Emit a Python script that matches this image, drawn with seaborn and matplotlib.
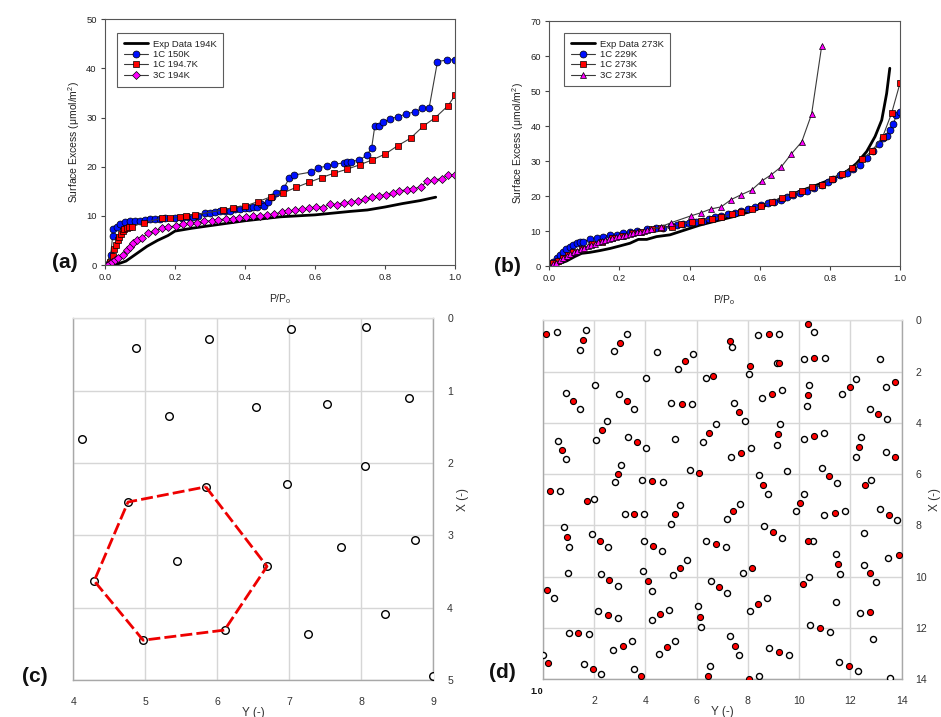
import matplotlib
matplotlib.use("Agg")
import matplotlib.pyplot as plt
import seaborn as sns

sns.set_theme(style="white")
plt.rcParams["font.family"] = ["Liberation Sans", "DejaVu Sans"]
plt.rcParams["mathtext.fontset"] = "custom"
plt.rcParams["mathtext.rm"] = "Liberation Sans"
plt.rcParams["mathtext.it"] = "Liberation Sans:italic"

# ---------------- Panel (a) data: 194 K isotherms ----------------
a_exp_x = [0, 0.02, 0.04, 0.06, 0.08, 0.1, 0.12, 0.15, 0.18, 0.2, 0.25, 0.3, 0.4, 0.5,
           0.6, 0.7, 0.75, 0.8, 0.85, 0.9, 0.945]
a_exp_y = [0, 0.1, 0.3, 0.8, 1.8, 2.8, 3.8, 5.0, 6.0, 6.9, 7.5, 8.0, 9.0, 9.8,
           10.2, 10.9, 11.2, 11.8, 12.5, 13.1, 13.8]

a_1c150_x = [0, 0.016, 0.022, 0.024, 0.033, 0.043, 0.057, 0.071, 0.086, 0.1, 0.114, 0.129,
             0.143, 0.157, 0.171, 0.2, 0.219, 0.238, 0.252, 0.267, 0.286, 0.3, 0.314, 0.329,
             0.343, 0.357, 0.371, 0.386, 0.4, 0.411, 0.424, 0.435, 0.446, 0.454, 0.467, 0.478,
             0.49, 0.511, 0.527, 0.54, 0.588, 0.61, 0.633, 0.655, 0.684, 0.692, 0.703, 0.727,
             0.748, 0.762, 0.771, 0.784, 0.793, 0.814, 0.838, 0.859, 0.886, 0.907, 0.926,
             0.95, 0.976, 1.0]
a_1c150_y = [0, 2.0, 6.0, 7.3, 7.8, 8.3, 8.7, 9.0, 9.0, 9.0, 9.2, 9.3,
             9.3, 9.4, 9.5, 9.6, 9.6, 9.8, 9.8, 9.9, 10.6, 10.6, 10.8, 11.0,
             11.0, 11.0, 11.3, 11.4, 11.5, 11.5, 11.8, 11.9, 12.4, 12.1, 12.8, 13.9,
             14.7, 15.6, 17.8, 18.3, 18.9, 19.8, 20.1, 20.5, 20.8, 21.0, 21.0, 21.4,
             22.3, 23.9, 28.3, 28.3, 29.0, 29.7, 30.2, 30.7, 31.2, 31.9, 31.9,
             41.4, 41.7, 41.8]

a_1c1947_x = [0, 0.014, 0.022, 0.027, 0.031, 0.036, 0.041, 0.046, 0.05, 0.055, 0.062, 0.069,
              0.076, 0.111, 0.162, 0.186, 0.214, 0.231, 0.257, 0.338, 0.367, 0.401, 0.437,
              0.475, 0.51, 0.546, 0.582, 0.619, 0.655, 0.692, 0.728, 0.764, 0.801, 0.837,
              0.873, 0.91, 0.944, 0.98, 1.0]
a_1c1947_y = [0, 0.7, 1.9, 3.2, 4.1, 5.0, 5.8, 6.4, 6.9, 7.3, 7.5, 7.7,
              7.8, 8.6, 9.5, 9.5, 9.7, 10.0, 10.2, 11.2, 11.7, 12.0, 12.9,
              13.9, 14.7, 15.8, 16.8, 17.8, 18.7, 19.5, 20.4, 21.4, 22.6, 24.3,
              25.8, 28.3, 30.0, 32.4, 34.5]

a_3c194_x = [0, 0.01, 0.019, 0.029, 0.038, 0.05, 0.062, 0.071, 0.081, 0.092, 0.105, 0.124,
             0.143, 0.162, 0.181, 0.202, 0.222, 0.243, 0.262, 0.284, 0.305, 0.324, 0.345,
             0.365, 0.384, 0.403, 0.424, 0.443, 0.464, 0.484, 0.505, 0.524, 0.543, 0.564,
             0.583, 0.603, 0.624, 0.643, 0.662, 0.683, 0.703, 0.722, 0.743, 0.764, 0.783,
             0.802, 0.822, 0.841, 0.862, 0.881, 0.902, 0.921, 0.941, 0.962, 0.981, 1.0]
a_3c194_y = [0, 0.3, 0.7, 1.0, 1.5, 2.0, 3.1, 3.7, 4.4, 5.1, 5.4, 6.6,
             6.9, 7.5, 7.7, 8.0, 8.3, 8.5, 8.5, 8.9, 9.0, 9.2, 9.4,
             9.4, 9.5, 9.7, 10.0, 10.0, 10.2, 10.4, 10.7, 10.9, 11.1, 11.3,
             11.5, 11.9, 11.7, 12.4, 12.3, 12.7, 12.8, 13.1, 13.4, 13.8, 14.1,
             14.3, 14.6, 15.1, 15.3, 15.5, 15.9, 17.0, 17.3, 17.6, 18.3, 18.3]

# ---------------- Panel (b) data: 273 K isotherms ----------------
b_exp_x = [0, 0.026, 0.049, 0.073, 0.092, 0.116, 0.144, 0.173, 0.2, 0.23, 0.254, 0.278,
           0.306, 0.344, 0.387, 0.43, 0.477, 0.525, 0.572, 0.601, 0.639, 0.677, 0.715,
           0.762, 0.81, 0.848, 0.876, 0.905, 0.929, 0.948, 0.962, 0.971]
b_exp_y = [0, 0.6, 1.4, 2.7, 3.6, 3.9, 4.4, 5.0, 5.7, 6.5, 7.6, 7.6,
           8.4, 8.9, 10.3, 11.7, 12.9, 14.1, 15.5, 16.5, 18.4, 19.8, 21.4,
           23.1, 25.0, 27.0, 29.3, 32.7, 37.0, 41.7, 49.3, 56.5]

b_1c229_x = [0, 0.011, 0.021, 0.03, 0.04, 0.049, 0.059, 0.068, 0.078, 0.087, 0.097, 0.116,
             0.135, 0.154, 0.173, 0.192, 0.211, 0.23, 0.249, 0.278, 0.303, 0.325, 0.346,
             0.363, 0.38, 0.399, 0.418, 0.437, 0.456, 0.472, 0.491, 0.51, 0.529, 0.548,
             0.567, 0.587, 0.605, 0.623, 0.641, 0.66, 0.679, 0.696, 0.715, 0.734, 0.755,
             0.777, 0.796, 0.81, 0.829, 0.848, 0.867, 0.886, 0.905, 0.924, 0.941, 0.952,
             0.962, 0.971, 0.981, 0.99, 1.0]
b_1c229_y = [0, 1.2, 2.2, 3.1, 4.1, 4.8, 5.5, 6.0, 6.5, 6.8, 7.0, 7.6,
             8.0, 8.4, 8.8, 9.0, 9.3, 9.6, 9.9, 10.5, 10.8, 11.0, 11.4,
             11.7, 12.0, 12.2, 12.5, 12.9, 13.5, 13.9, 14.3, 14.8, 15.2, 15.7,
             16.2, 17.0, 17.5, 17.9, 18.4, 19.0, 19.6, 20.3, 20.8, 21.4, 22.2,
             23.1, 24.1, 24.9, 25.9, 26.5, 27.6, 29.0, 31.0, 33.0, 34.8, 36.5,
             37.1, 39.0, 40.6, 43.1, 44.0]

b_1c273_x = [0, 0.011, 0.026, 0.04, 0.054, 0.068, 0.092, 0.121, 0.149, 0.178, 0.206, 0.235,
             0.263, 0.292, 0.32, 0.349, 0.377, 0.406, 0.434, 0.463, 0.491, 0.52, 0.548,
             0.577, 0.605, 0.634, 0.663, 0.691, 0.72, 0.748, 0.777, 0.805, 0.834, 0.862,
             0.893, 0.921, 0.951, 0.976, 1.0]
b_1c273_y = [0, 0.8, 1.4, 2.2, 3.1, 3.9, 5.0, 6.2, 7.0, 8.0, 8.7, 9.3,
             9.8, 10.5, 11.0, 11.2, 11.9, 12.5, 13.0, 13.5, 14.1, 14.8, 15.3,
             16.2, 17.1, 18.4, 19.5, 20.5, 21.4, 22.7, 23.1, 25.0, 26.3, 27.9,
             30.5, 33.0, 37.0, 43.6, 52.2]

b_3c273_x = [0, 0.01, 0.02, 0.03, 0.04, 0.05, 0.06, 0.07, 0.08, 0.09, 0.10, 0.11, 0.12,
             0.13, 0.14, 0.15, 0.16, 0.17, 0.18, 0.19, 0.20, 0.21, 0.22, 0.23, 0.24, 0.25,
             0.26, 0.27, 0.28, 0.29, 0.318, 0.348, 0.403, 0.432, 0.461, 0.49, 0.519, 0.548,
             0.577, 0.606, 0.632, 0.662, 0.69, 0.72, 0.748, 0.777]
b_3c273_y = [0, 0.5, 1.0, 1.6, 2.2, 2.8, 3.4, 3.9, 4.4, 4.8, 5.2, 5.6, 6.0,
             6.4, 6.8, 7.1, 7.4, 7.7, 8.0, 8.2, 8.5, 8.7, 8.9, 9.1, 9.3, 9.6,
             9.8, 10.0, 10.3, 10.5, 11.2, 12.4, 14.3, 15.2, 16.3, 16.9, 19.0, 20.4,
             21.7, 24.3, 26.0, 28.4, 32.0, 35.5, 43.4, 63.0]

# ---------------- Panel (c) data: single layer snapshot ----------------
c_Y = [4.87, 5.89, 7.03, 8.06, 5.33, 6.54, 7.53, 8.66, 4.12, 8.05, 6.97, 5.84,
       4.76, 8.75, 7.72, 5.44, 6.69, 4.29, 8.33, 6.10, 7.26, 4.97, 9.0]
c_X = [0.41, 0.28, 0.15, 0.12, 1.35, 1.22, 1.18, 1.10, 1.67, 2.04, 2.29, 2.33,
       2.54, 3.07, 3.16, 3.35, 3.43, 3.63, 4.09, 4.31, 4.36, 4.45, 4.95]
hex_Y = [5.84, 6.69, 6.10, 4.97, 4.29, 4.76, 5.84]
hex_X = [2.33, 3.43, 4.31, 4.45, 3.63, 2.54, 2.33]

# ---------------- Panel (d) data: CO2 molecules (O open, C red) ----------------
d_O_Y = [0.56, 1.69, 1.47, 3.27, 2.77, 4.44, 5.86, 5.26, 7.40, 4.01, 6.35, 2.03, 0.90, 1.45,
         2.97, 3.57, 5.01, 5.83, 7.47, 7.88, 2.52, 2.09, 0.58, 0.92, 3.31, 4.01, 5.17, 6.75,
         6.25, 7.34, 8.12, 3.04, 2.81, 3.86, 4.68, 5.73, 0.69, 2.00, 5.36,
         3.21, 3.96, 5.00, 7.18, 7.69, 0.82, 1.01, 1.92, 2.56, 3.97, 4.65, 5.61, 5.08, 6.35,
         7.13, 0.99, 2.26, 2.94, 3.91, 4.27, 6.55, 7.18, 0.45, 2.17, 2.95, 4.26, 4.92, 6.05,
         6.19, 1.01, 1.79, 2.74, 3.49, 4.55, 5.16, 7.31, 7.64, 0.03, 1.61, 2.29, 3.58, 6.53,
         8.41, 9.23, 10.57, 13.17, 8.04, 9.12, 10.18, 11.00, 12.23, 11.69, 13.39, 8.56, 9.32,
         10.39, 10.30, 12.75, 13.44, 9.24, 9.12, 10.21, 10.97, 12.41, 12.22, 13.38, 8.44,
         8.80, 9.52, 10.88, 11.48, 12.79, 10.21, 9.87, 10.99, 11.79, 13.14, 13.83,
         8.65, 9.32, 10.53, 12.52, 11.43, 11.60, 12.52, 13.00, 13.48, 7.82, 10.38, 8.08,
         8.73, 11.42, 12.36, 10.41, 11.19, 12.88, 8.83, 9.61, 11.57, 12.31, 8.43, 13.53]
d_O_X = [0.43, 0.36, 1.17, 0.52, 1.18, 1.21, 1.32, 1.88, 1.02, 2.23, 2.23, 2.50, 2.83, 3.44,
         2.88, 3.46, 3.22, 3.27, 3.22, 3.93, 3.93, 4.65, 4.71, 5.40, 4.54, 4.97, 4.61, 4.04,
         4.73, 5.31, 4.99, 5.63, 6.32, 6.22, 6.29, 5.83, 6.64, 6.97, 7.20,
         7.54, 7.54, 7.93, 7.76, 7.17, 8.04, 8.84, 8.34, 8.84, 8.61, 8.99, 9.35, 9.94, 8.62,
         8.83, 9.85, 9.90, 10.38, 9.79, 10.55, 10.17, 10.65, 10.84, 11.34, 11.63, 11.67,
         11.29, 11.16, 11.98, 12.20, 12.23, 12.85, 12.51, 13.01, 12.51, 12.33, 13.06, 13.07,
         13.40, 13.80, 13.60, 13.49,
         0.55, 0.53, 0.46, 1.50, 2.10, 1.65, 1.51, 1.45, 2.27, 2.88, 2.59, 3.03, 2.73,
         2.50, 3.33, 3.45, 3.83, 4.04, 4.86, 4.64, 4.40, 4.56, 5.33, 5.14, 6.04,
         6.77, 5.87, 5.77, 6.34, 6.24, 6.76, 7.45, 7.60, 7.45, 7.36, 7.78,
         8.01, 8.48, 8.60, 8.31, 9.10, 9.90, 9.55, 10.22, 9.25, 9.86, 10.03, 11.34,
         10.84, 10.98, 11.41, 11.89, 12.15, 12.44, 12.80, 13.06, 13.31, 13.67, 13.88, 13.97]
d_C_Y = [0.14, 1.57, 3.01, 5.56, 7.31, 6.65, 1.17, 3.27, 5.42, 7.67, 2.30, 0.74, 3.66, 6.49,
         7.73, 2.92, 4.26, 6.09, 0.30, 1.73,
         3.57, 5.17, 7.44, 0.94, 2.25, 4.31, 5.35, 6.75, 2.60, 4.09, 6.87, 0.18, 2.56, 4.58,
         6.12, 1.39, 3.12, 4.84, 7.49, 0.19, 1.96, 3.84, 6.44,
         8.82, 10.35, 8.10, 9.22, 10.60, 11.97, 13.74, 8.93, 10.34, 13.09, 9.18, 10.60,
         12.32, 13.74, 8.61, 11.18, 12.56, 10.04, 11.39, 13.49,
         8.98, 10.36, 11.50, 12.77, 13.88, 8.17, 10.14, 8.41, 12.77, 10.80, 9.22, 11.95, 8.04]
d_C_X = [0.51, 0.77, 0.86, 1.59, 0.80, 2.16, 3.13, 3.16, 3.24, 3.57, 4.28, 5.07, 4.75, 4.39,
         5.16, 5.98, 6.25, 5.96, 6.65, 7.06,
         7.54, 7.55, 7.45, 8.44, 8.60, 8.79, 9.65, 8.73, 10.13, 10.17, 10.42, 10.52, 11.49,
         11.47, 11.58, 12.21, 12.70, 12.76, 12.70, 13.35, 13.60, 13.88, 13.89,
         0.53, 0.13, 1.77, 1.67, 1.48, 2.58, 2.40, 2.88, 2.92, 3.63, 4.44, 4.52,
         4.93, 5.34, 6.41, 6.05, 6.43, 7.11, 7.51, 7.58,
         8.24, 8.61, 9.49, 9.87, 9.16, 9.65, 10.29, 11.08, 11.36, 12.02, 12.93, 13.49, 14.0]

iso_ticks_a = [0, 10, 20, 30, 40, 50]
iso_ticks_b = [0, 10, 20, 30, 40, 50, 60, 70]
pp_ticks = [0.0, 0.2, 0.4, 0.6, 0.8, 1.0]
c_xticks = [4, 5, 6, 7, 8, 9]
c_yticks = [0, 1, 2, 3, 4, 5]
d_ticks = [0, 2, 4, 6, 8, 10, 12, 14]
d_xticklabels = ["", "2", "4", "6", "8", "10", "12", "14"]

TXT = "#222222"
LINE = "#3a3a3a"

fig = plt.figure(figsize=(9.41, 7.17), dpi=100)


def iso_panel(ax, series, yticks, legend_anchor):
    for (xs, ys, label, marker, fc, ms) in series:
        if marker is None:
            sns.lineplot(x=xs, y=ys, ax=ax, sort=False, estimator=None, color="black",
                         lw=2.0, label=label, legend=False)
        else:
            sns.lineplot(x=xs, y=ys, ax=ax, sort=False, estimator=None, color=LINE,
                         lw=0.8, marker=marker, markersize=ms, markerfacecolor=fc,
                         markeredgecolor="black", markeredgewidth=0.5, label=label,
                         legend=False)
    ax.set_xlim(0, 1.0)
    ax.set_ylim(yticks[0], yticks[-1])
    ax.set_xticks(pp_ticks)
    ax.set_xticklabels([f"{t:.1f}" for t in pp_ticks])
    ax.set_yticks(yticks)
    ax.tick_params(bottom=True, left=True, direction="out", length=3, width=0.8,
                   colors="#444444", labelcolor=TXT, labelsize=6.8, pad=3)
    for s in ax.spines.values():
        s.set_color("#555555")
        s.set_linewidth(0.8)
    ax.set_xlabel("P/P$_\\mathrm{o}$", fontsize=7.5, color=TXT, labelpad=7)
    ax.set_ylabel("Surface Excess (\u03bcmol/m$^2$)", fontsize=7.5, color=TXT, labelpad=3)
    handles = ax.get_lines()
    leg = ax.legend(handles=handles, labels=[h.get_label() for h in handles],
                    loc="upper left", bbox_to_anchor=legend_anchor, borderaxespad=0,
                    fontsize=6.8, frameon=True, fancybox=False, handlelength=2.6,
                    handletextpad=0.5, labelspacing=0.15, borderpad=0.7)
    leg.get_frame().set_edgecolor("#333333")
    leg.get_frame().set_linewidth(0.8)
    for t in leg.get_texts():
        t.set_color(TXT)


axA = fig.add_axes([0.1116, 0.6304, 0.3719, 0.3427])
iso_panel(axA, [
    (a_exp_x, a_exp_y, "Exp Data 194K", None, None, 0),
    (a_1c150_x, a_1c150_y, "1C 150K", "o", "#0010ff", 5.0),
    (a_1c1947_x, a_1c1947_y, "1C 194.7K", "s", "#ff0000", 4.6),
    (a_3c194_x, a_3c194_y, "3C 194K", "D", "#ff00ff", 4.0),
], iso_ticks_a, (0.034, 0.944))

axB = fig.add_axes([0.5837, 0.6290, 0.3727, 0.3417])
iso_panel(axB, [
    (b_exp_x, b_exp_y, "Exp Data 273K", None, None, 0),
    (b_1c229_x, b_1c229_y, "1C 229K", "o", "#0010ff", 5.0),
    (b_1c273_x, b_1c273_y, "1C 273K", "s", "#ff0000", 4.6),
    (b_3c273_x, b_3c273_y, "3C 273K", "^", "#ff00ff", 4.6),
], iso_ticks_b, (0.042, 0.951))


def grid_panel(ax):
    ax.set_facecolor("white")
    ax.yaxis.tick_right()
    ax.yaxis.set_label_position("right")
    ax.grid(True, color="#d6d6d6", lw=1.0)
    ax.set_axisbelow(True)
    for side, s in ax.spines.items():
        s.set_linewidth(1.0)
        s.set_color("#dddddd" if side == "top" else "#a8a8a8")
    ax.tick_params(bottom=False, left=False, right=False, labelsize=7.6,
                   labelcolor="#333333")
    ax.tick_params(axis="x", pad=6)
    ax.tick_params(axis="y", pad=4)


# ---------------- Panel (c) ----------------
axC = fig.add_axes([0.0779, 0.0516, 0.3826, 0.5045])
sns.scatterplot(x=c_Y, y=c_X, ax=axC, s=30, facecolor="white", edgecolor="black",
                linewidth=1.0, zorder=3)
sns.lineplot(x=hex_Y, y=hex_X, ax=axC, sort=False, estimator=None, color="#ee0000",
             lw=2.0, linestyle=(0, (4.3, 1.5)), zorder=4)
axC.set_xlim(4, 9)
axC.set_ylim(5, 0)
grid_panel(axC)
axC.set_xticks(c_xticks)
axC.set_yticks(c_yticks)
axC.set_xlabel("Y (-)", fontsize=8.5, color="#333333", labelpad=0)
axC.set_ylabel("X (-)", fontsize=8.5, color="#333333", labelpad=3, rotation=90)

# ---------------- Panel (d) ----------------
axD = fig.add_axes([0.5767, 0.0527, 0.3815, 0.5003])
sns.scatterplot(x=d_O_Y, y=d_O_X, ax=axD, s=19, facecolor="white", edgecolor="black",
                linewidth=1.0, zorder=3)
sns.scatterplot(x=d_C_Y, y=d_C_X, ax=axD, s=19, facecolor="#ff0000", edgecolor="black",
                linewidth=0.8, zorder=4)
axD.set_xlim(0, 14)
axD.set_ylim(14, 0)
grid_panel(axD)
axD.set_xticks(d_ticks)
axD.set_xticklabels(d_xticklabels)
axD.set_yticks(d_ticks)
axD.set_xlabel("Y (-)", fontsize=8.5, color="#333333", labelpad=0)
axD.set_ylabel("X (-)", fontsize=8.5, color="#333333", labelpad=1, rotation=90)
fig.text(537 / 941, 1 - 691 / 717, "1.0", fontsize=6.5, fontweight="bold",
         ha="center", va="center", color="#111111")

# ---------------- Panel letters ----------------
for (px, py, lab) in [(65, 263, "(a)"), (507, 267, "(b)"), (35, 676, "(c)"), (502, 673, "(d)")]:
    fig.text(px / 941, 1 - py / 717, lab, fontsize=15, fontweight="bold",
             ha="center", va="center", color="#111111")

fig.savefig("out.png", dpi=100, facecolor="white")
